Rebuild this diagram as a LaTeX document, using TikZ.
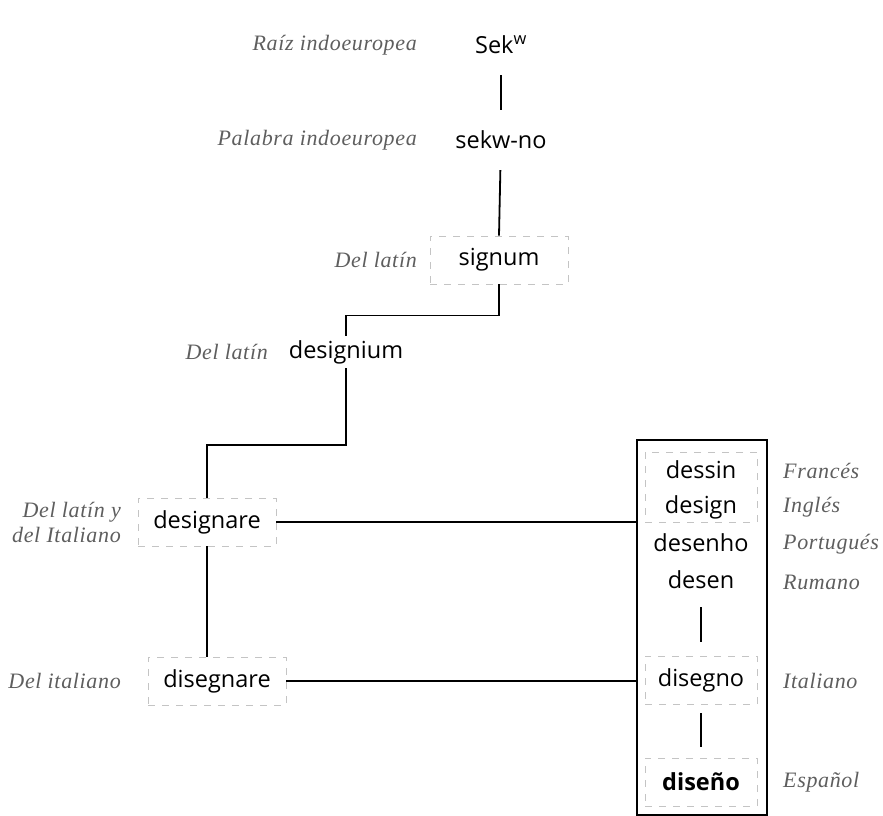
\documentclass[tikz,border=0pt]{standalone}
\usepackage{fontspec}
\setmainfont{Open Sans}
\newfontfamily\langfont[LetterSpace=3]{Liberation Serif}
\usepackage{tikz}
\usetikzlibrary{positioning, calc}

\definecolor{labelgray}{HTML}{5E5E5E}
\definecolor{boxgray}{HTML}{C4C4C4}

\tikzset{
    word/.style={inner sep=0pt, minimum height=32pt, font=\fontsize{23.5}{27}\selectfont},
    dbox/.style={word, draw=boxgray, line width=0.9pt, dash pattern=on 7pt off 7pt, minimum width=138pt, minimum height=48pt},
    lang/.style={text=labelgray, inner sep=0pt, font=\langfont\itshape\fontsize{22}{25}\selectfont},
    link/.style={line width=1.8pt}
}

\begin{document}
\begin{tikzpicture}[x=1pt, y=-1pt]
    \useasboundingbox (0,0) rectangle (883,816);

    % chain down the left side
    \node[word] (sekw) at (501,45) {Sek\textsuperscript{w}};
    \node[lang, anchor=east] at (417,45) {Raíz indoeuropea};
    \node[word] (sekwno) at (501,140) {sekw-no};
    \node[lang, anchor=east] at (417,140) {Palabra indoeuropea};
    \node[dbox] (signum) at (499,260) {signum};
    \node[lang, anchor=east] at (417,260) {Del latín};
    \node[word] (designium) at (346,352) {designium};
    \node[lang, anchor=east] at (268,352) {Del latín};
    \node[dbox] (designare) at (207,522) {designare};
    \node[lang, anchor=east, align=right] at (121,522) {Del latín y\\del Italiano};
    \node[dbox] (disegnare) at (217,681) {disegnare};
    \node[lang, anchor=east] at (121,681) {Del italiano};

    \draw[link, shorten <=14pt, shorten >=14pt] (sekw) -- (sekwno);
    \draw[link, shorten <=14pt] (sekwno) -- (signum.north);
    \draw[link] (signum.south) -- ++(0,31) -| (designium.north);
    \draw[link] (designium.south) -- ++(0,77) -| (designare.north);
    \draw[link] (designare.south) -- (designare.south |- disegnare.north);

    % modern words
    \node[draw, line width=1.8pt, minimum width=130pt, minimum height=375pt] (modern) at (702,627.5) {};
    \node[dbox, minimum width=112pt, minimum height=70pt] (frenbox) at (701,487) {};
    \node[word] (dessin) at (701,470) {dessin};
    \node[word] (design) at (701,507) {design};
    \node[word] (desenho) at (701,543) {desenho};
    \node[word] (desen) at (701,580) {desen};
    \node[dbox, minimum width=112pt] (disegno) at (701,680) {disegno};
    \node[dbox, minimum width=112pt, font=\fontsize{23.5}{27}\selectfont\bfseries] (diseno) at (701,782) {diseño};

    \node[lang, anchor=west] at (783,471) {Francés};
    \node[lang, anchor=west] at (783,507) {Inglés};
    \node[lang, anchor=west] at (783,544) {Portugués};
    \node[lang, anchor=west] at (783,582) {Rumano};
    \node[lang, anchor=west] at (783,681) {Italiano};
    \node[lang, anchor=west] at (783,782) {Español};

    \draw[link, shorten <=11pt, shorten >=14pt] (desen) -- (disegno.north);
    \draw[link, shorten <=9pt, shorten >=11pt] (disegno.south) -- (diseno.north);

    \draw[link] (designare.east) -- (designare.east -| modern.west);
    \draw[link] (disegnare.east) -- (disegnare.east -| modern.west);
\end{tikzpicture}
\end{document}
